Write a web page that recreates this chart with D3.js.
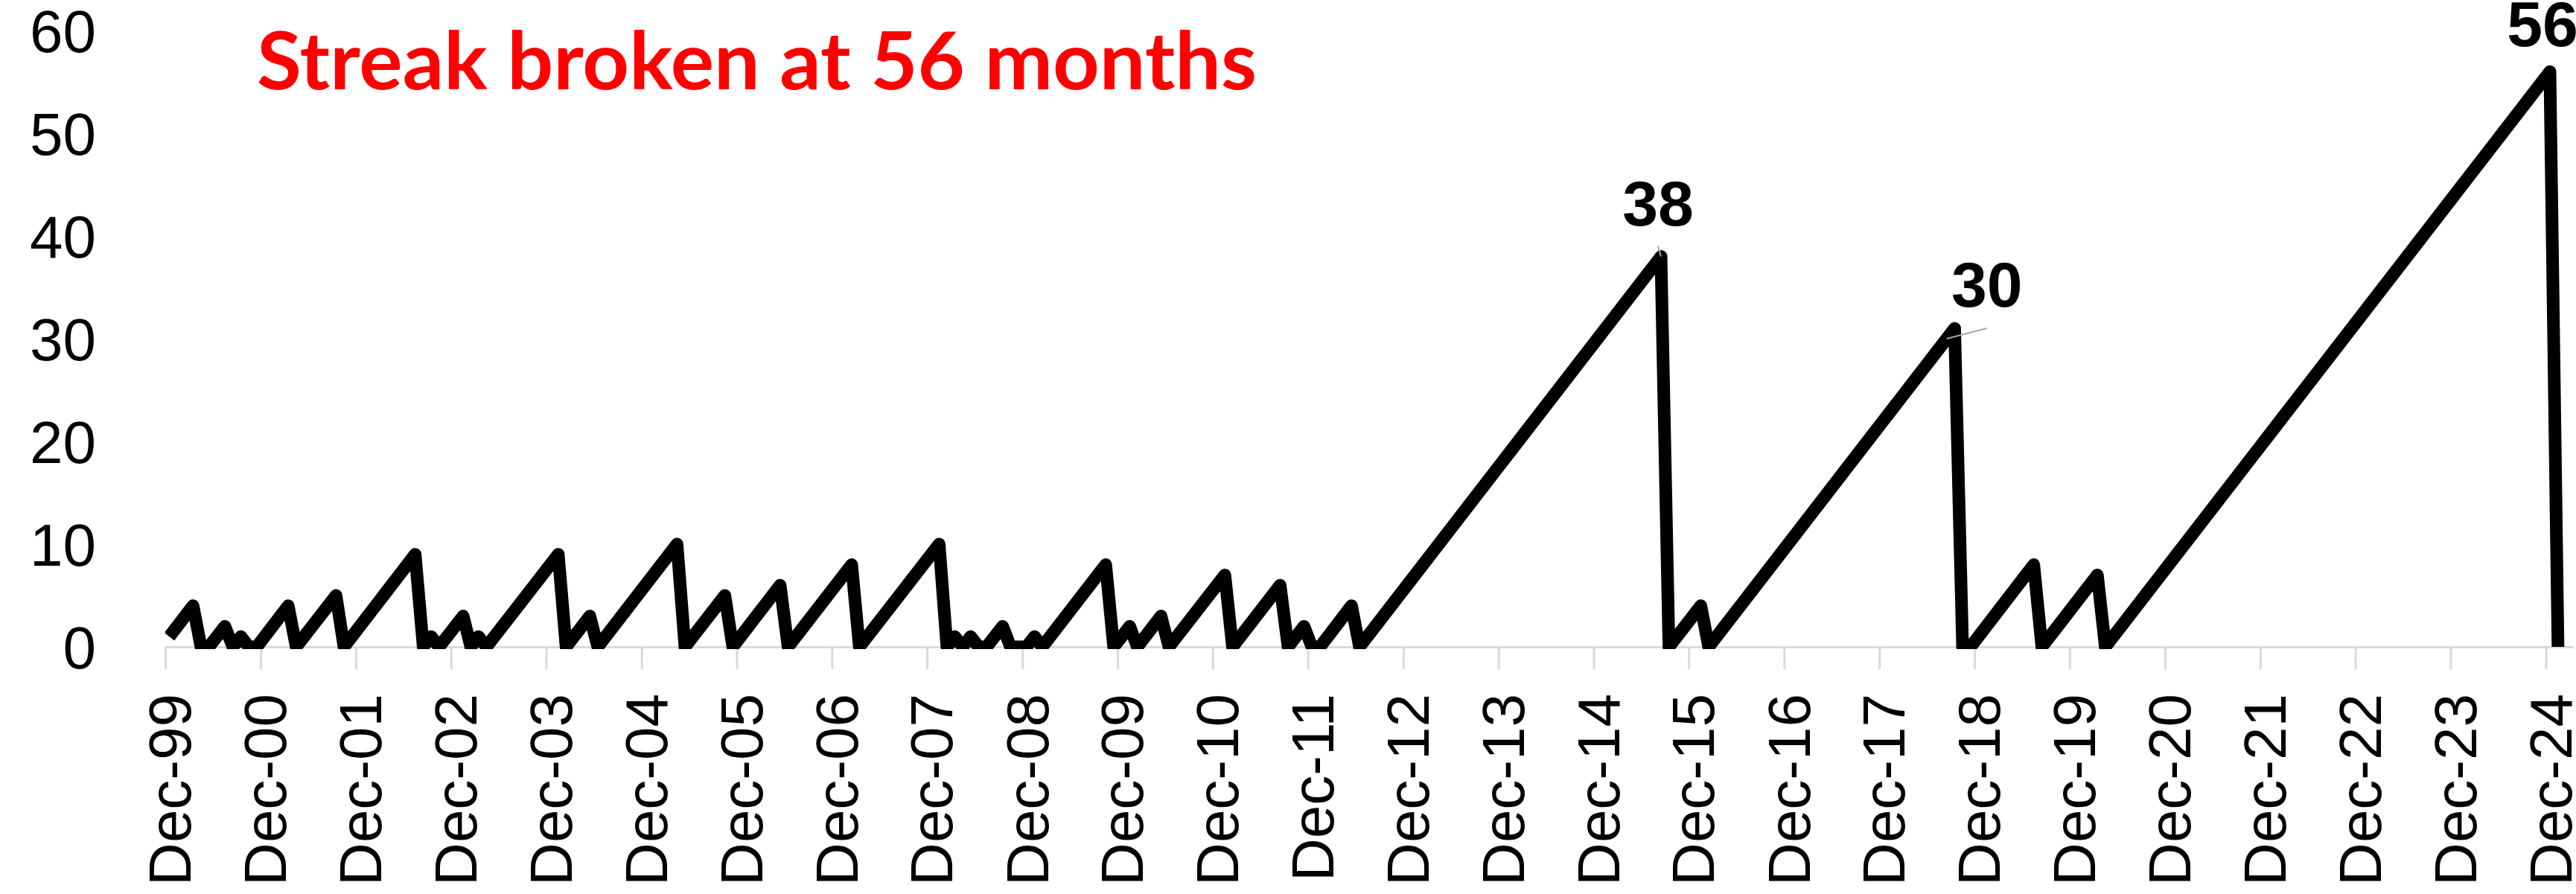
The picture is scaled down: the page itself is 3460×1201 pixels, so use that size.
<!DOCTYPE html>
<html>
<head>
<meta charset="utf-8">
<script src="https://d3js.org/d3.v7.min.js"></script>
<style>
  body { margin: 0; background: #fff; }
  svg { display: block; }
</style>
</head>
<body>
<div id="chart"></div>
<script>
var width = 3460,
    height = 1201;

// corner points of the streak line (month, streak count)
var streakDates = [
  "1999-12","2000-03","2000-04","2000-05","2000-07","2000-08","2000-09","2000-10","2000-11",
  "2001-03","2001-04","2001-09","2001-10","2002-07","2002-08","2002-09","2002-10",
  "2003-01","2003-02","2003-03","2003-04","2004-01","2004-02","2004-05","2004-06",
  "2005-04","2005-05","2005-10","2005-11","2006-05","2006-06","2007-02","2007-03",
  "2008-01","2008-02","2008-03","2008-04","2008-05","2008-06","2008-07","2008-09",
  "2008-10","2008-12","2009-01","2009-02","2009-10","2009-11","2010-01","2010-02",
  "2010-05","2010-06","2011-01","2011-02","2011-08","2011-09","2011-11","2011-12",
  "2012-01","2012-05","2012-06","2015-08","2015-09","2016-01","2016-02","2018-09",
  "2018-10","2018-11","2019-07","2019-08","2020-03","2020-04","2024-12","2025-01"
];
var streakValues = [
  1, 4, 0, 0, 2, 0, 1, 0, 0,
  4, 0, 5, 0, 9, 0, 1, 0,
  3, 0, 1, 0, 9, 0, 3, 0,
  10, 0, 5, 0, 6, 0, 8, 0,
  10, 0, 1, 0, 1, 0, 0, 2,
  0, 0, 1, 0, 8, 0, 2, 0,
  3, 0, 7, 0, 6, 0, 2, 0,
  0, 4, 0, 38, 0, 4, 0, 31,
  0, 0, 8, 0, 7, 0, 56, 0
];

var yTicks = [0, 10, 20, 30, 40, 50, 60];

var xTickLabels = [
  "Dec-99","Dec-00","Dec-01","Dec-02","Dec-03","Dec-04","Dec-05","Dec-06","Dec-07",
  "Dec-08","Dec-09","Dec-10","Dec-11","Dec-12","Dec-13","Dec-14","Dec-15","Dec-16",
  "Dec-17","Dec-18","Dec-19","Dec-20","Dec-21","Dec-22","Dec-23","Dec-24"
];

var calloutDates = ["2015-08", "2018-08", "2024-12"];
var calloutValues = [38, 30, 56];

var titleText = "Streak broken at 56 months";

var parseMonth = d3.timeParse("%Y-%m"),
    parseTick = d3.timeParse("%b-%y");

function mid(d) {
  return new Date((+d + +d3.timeMonth.offset(d, 1)) / 2);
}

var data = streakDates.map(function(s, i) {
  return { date: parseMonth(s), value: streakValues[i] };
});
var tickDates = xTickLabels.map(parseTick);

var x = d3.scaleTime()
    .domain([new Date(1999, 11, 1), new Date(2025, 2, 18)])
    .range([222, 3457]);

var y = d3.scaleLinear()
    .domain([0, 60])
    .range([869, 41]);

var svg = d3.select("#chart").append("svg")
    .attr("width", width)
    .attr("height", height)
    .style("background", "#fff");

svg.append("defs").append("clipPath")
    .attr("id", "plot-clip")
  .append("rect")
    .attr("x", x.range()[0])
    .attr("y", 0)
    .attr("width", x.range()[1] - x.range()[0])
    .attr("height", y(0) + 3);

// x axis: light grey line with outside ticks
var xAxis = svg.append("g")
    .attr("transform", "translate(0," + y(0) + ")")
    .call(d3.axisBottom(x)
      .tickValues(tickDates)
      .tickSize(30)
      .tickSizeOuter(0)
      .tickFormat(""));

xAxis.select(".domain")
    .attr("stroke", "#d9d9d9")
    .attr("stroke-width", 3);
xAxis.selectAll(".tick line")
    .attr("stroke", "#d9d9d9")
    .attr("stroke-width", 3);

svg.append("g").selectAll("text")
    .data(tickDates)
    .enter().append("text")
    .attr("transform", function(d) { return "translate(" + x(mid(d)) + ",932)rotate(-90)"; })
    .attr("dy", "0.36em")
    .attr("text-anchor", "end")
    .style("font-family", "'Liberation Sans', Arial, sans-serif")
    .style("font-size", "80px")
    .style("fill", "#000")
    .text(function(d, i) { return xTickLabels[i]; });

// y axis: labels only
var yAxis = svg.append("g")
    .attr("transform", "translate(129,0)")
    .call(d3.axisLeft(y)
      .tickValues(yTicks)
      .tickSize(0)
      .tickPadding(0));

yAxis.select(".domain").remove();
yAxis.selectAll("text")
    .attr("dy", "0.36em")
    .style("font-family", "'Liberation Sans', Arial, sans-serif")
    .style("font-size", "80px")
    .style("fill", "#000");

var line = d3.line()
    .x(function(d) { return x(mid(d.date)); })
    .y(function(d) { return y(d.value); });

svg.append("path")
    .datum(data)
    .attr("clip-path", "url(#plot-clip)")
    .attr("d", line)
    .attr("fill", "none")
    .attr("stroke", "#000")
    .attr("stroke-width", 17)
    .attr("stroke-linejoin", "round");

// data labels with leader lines
var calloutOffsets = [[-4, -42], [54, -43], [-10, -34]],
    leaderEnds = [[-4, -14], [54, -14], null];

calloutDates.forEach(function(s, i) {
  var px = x(mid(parseMonth(s))),
      py = y(calloutValues[i]);

  if (leaderEnds[i]) {
    svg.append("line")
        .attr("x1", px)
        .attr("y1", py)
        .attr("x2", px + leaderEnds[i][0])
        .attr("y2", py + leaderEnds[i][1])
        .attr("stroke", "#a6a6a6")
        .attr("stroke-width", 2);
  }

  svg.append("text")
      .attr("x", px + calloutOffsets[i][0])
      .attr("y", py + calloutOffsets[i][1])
      .attr("text-anchor", "middle")
      .style("font-family", "'Liberation Sans', Arial, sans-serif")
      .style("font-weight", "bold")
      .style("font-size", "86px")
      .style("fill", "#000")
      .text(calloutValues[i]);
});

svg.append("text")
    .attr("x", 345)
    .attr("y", 120)
    .attr("textLength", 1343)
    .attr("lengthAdjust", "spacingAndGlyphs")
    .style("font-family", "Lato, 'Open Sans', sans-serif")
    .style("font-weight", "bold")
    .style("font-size", "108px")
    .style("fill", "#ff0000")
    .text(titleText);
</script>
</body>
</html>
